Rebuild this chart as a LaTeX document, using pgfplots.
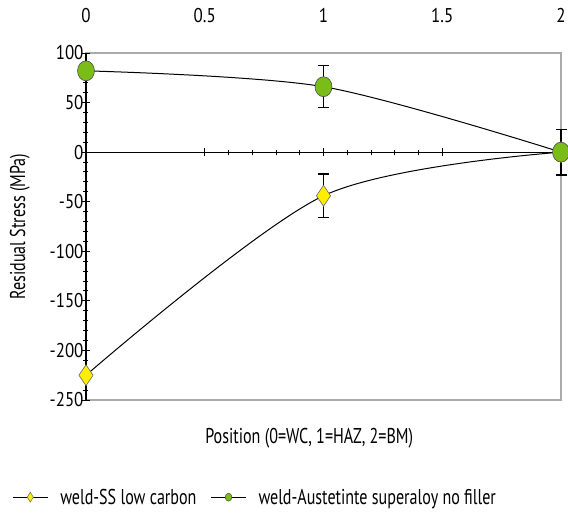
\documentclass[border=0pt]{standalone}
\usepackage{pgfplots}
\pgfplotsset{compat=1.18}
\usepackage{fontspec}
\setmainfont{PT Sans}[FakeStretch=0.75]
\newfontfamily\tickfont{PT Sans}[FakeStretch=0.85]
\definecolor{greenM}{RGB}{122,188,24}
\definecolor{yellowM}{RGB}{255,238,0}
\definecolor{frameG}{RGB}{170,170,170}
\begin{document}
\begin{tikzpicture}[font=\fontsize{21.5}{24}\selectfont]
% frame axis with labels
\begin{axis}[at={(0,0)}, anchor=south west, scale only axis,
  width=475bp, height=347bp,
  xmin=0, xmax=2, ymin=-250, ymax=100,
  axis line style={frameG, line width=1.2pt},
  /pgf/number format/assume math mode=true,
  tick label style={font=\fontsize{20}{22}\selectfont\tickfont},
  xtick={0,0.5,1,1.5,2}, xticklabel pos=upper,
  xticklabels={0,0.5,1,1.5,2},
  x tick label style={yshift=27bp},
  ytick={-250,-200,-150,-100,-50,0,50,100},
  yticklabels={-250,-200,-150,-100,-50,0,50,100},
  y tick label style={xshift=1bp},
  major tick length=0pt, minor tick length=0pt,
  xlabel={Position (0=WC, 1=HAZ, 2=BM)},
  xlabel style={at={(axis description cs:0.47,-0.11)}, anchor=center},
  ylabel={Residual Stress (MPa)},
  ylabel style={at={(axis description cs:-0.139,0.50)}, anchor=center},
]
\end{axis}
% overlay axis with black axis lines and data
\begin{axis}[at={(0,0)}, anchor=south west, scale only axis,
  width=475bp, height=347bp,
  xmin=0, xmax=2, ymin=-250, ymax=100,
  clip=false,
  axis x line=middle, axis y line=left,
  axis line style={black, line width=1.2pt, -},
  xtick={0.5,1,1.5}, minor x tick num=4,
  ytick={-250,-200,-150,-100,-50,0,50,100}, minor y tick num=4,
  xticklabels={}, yticklabels={},
  tick align=center,
  major tick length=8bp, minor tick length=5bp,
  tick style={black, line width=1pt},
  legend columns=2,
  legend style={at={(axis description cs:0.356,-0.28)}, anchor=center,
    draw=none, fill=none,
    /tikz/every even column/.append style={column sep=12bp},
    font=\fontsize{21.5}{24}\selectfont},
]
\addplot[forget plot, black, line width=1pt, smooth, mark=diamond*,
  mark options={fill=yellowM, draw=black!60, mark size=10.5pt, line width=0.6pt, xscale=0.9},
  error bars/.cd, y dir=both, y explicit,
  error bar style={black, line width=1.2pt},
  error mark options={rotate=90, black, mark size=5.5bp, line width=1.2pt}]
  coordinates {(0,-225) +- (0,0) (1,-44) +- (0,22) (2,0) +- (0,0)};
\addplot[forget plot, black, line width=1pt, smooth, mark=*,
  mark options={fill=greenM, draw=black!70, mark size=10pt, line width=0.6pt, xscale=0.85},
  error bars/.cd, y dir=both, y explicit,
  error bar style={black, line width=1.2pt},
  error mark options={rotate=90, black, mark size=5.5bp, line width=1.2pt}]
  coordinates {(0,82) +- (0,0) (1,66) +- (0,21) (2,0) +- (0,23)};
\addlegendimage{legend image code/.code={
    \draw[black, line width=1pt] (0bp,0bp) -- (35bp,0bp);
    \draw[black, mark=diamond*, mark options={fill=yellowM, draw=black!60, mark size=5pt, xscale=0.8, line width=0.5pt}] plot coordinates {(17.5bp,0bp)};}}
\addlegendentry{\hspace{10bp}weld-SS low carbon}
\addlegendimage{legend image code/.code={
    \draw[black, line width=1pt] (0bp,0bp) -- (35bp,0bp);
    \draw[black, mark=*, mark options={fill=greenM, draw=black!70, mark size=4pt, xscale=0.85, line width=0.5pt}] plot coordinates {(17.5bp,0bp)};}}
\addlegendentry{\hspace{10bp}weld-Austetinte superaloy no filler}
\end{axis}
\pgfresetboundingbox
\path[use as bounding box] (-86bp,-116bp) rectangle (482bp,400bp);
\end{tikzpicture}
\end{document}
